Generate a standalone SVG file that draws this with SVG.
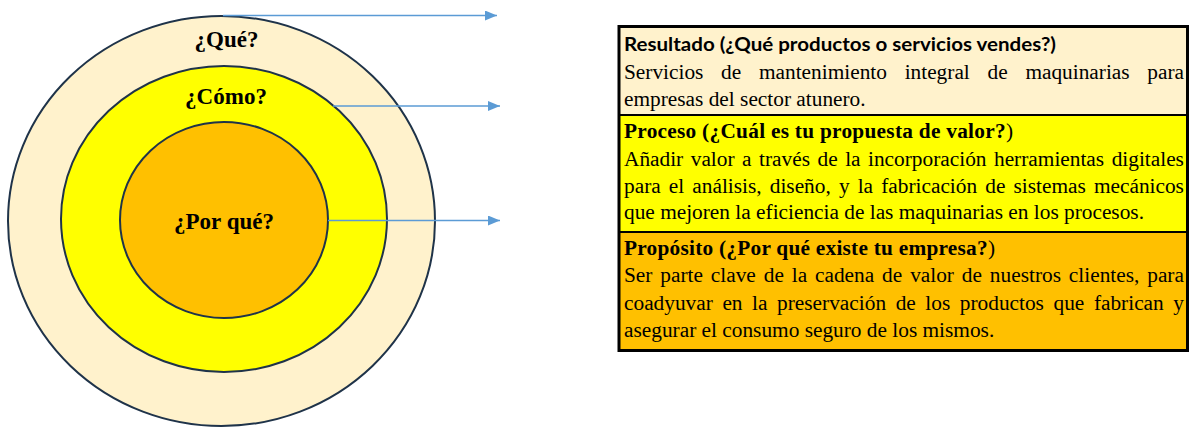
<svg xmlns="http://www.w3.org/2000/svg" width="1191" height="427" viewBox="0 0 1191 427">
<style>
.ring{stroke:#1F3349;stroke-width:2}
.lbl{font-family:"Liberation Serif","Times New Roman",serif;font-weight:bold;font-size:23px;fill:#000;text-anchor:middle}
.body{font-family:"Liberation Serif","Times New Roman",serif;font-size:21.33px;fill:#000}
.hdr{font-family:"Liberation Serif","Times New Roman",serif;font-size:21.33px;font-weight:bold;fill:#000}
.hdrs{font-family:Lato,"Open Sans","Liberation Sans",sans-serif;font-size:19px;font-weight:bold;fill:#000}
.conn{stroke:#5B9BD5;stroke-width:1.3;fill:none}
.div{stroke:#000;stroke-width:2}
</style>
<defs>
<marker id="arr" markerWidth="12" markerHeight="10" refX="12" refY="5" orient="auto" markerUnits="userSpaceOnUse">
<path d="M0,0 L12,5 L0,10 Z" fill="#5B9BD5"/>
</marker>
</defs>
<rect width="1191" height="427" fill="#fff"/>
<g id="ring-que">
<ellipse class="ring" cx="221.5" cy="221" rx="213.5" ry="205" fill="#FFF2CC"/>
<text class="lbl" x="226.5" y="47">¿Qué?</text>
</g>
<g id="ring-como">
<ellipse class="ring" cx="224" cy="219" rx="163" ry="153" fill="#FFFF00"/>
<text class="lbl" x="226" y="104">¿Cómo?</text>
</g>
<g id="ring-porque">
<ellipse class="ring" cx="224" cy="220" rx="104" ry="98" fill="#FFC000"/>
<text class="lbl" x="224" y="229">¿Por qué?</text>
</g>
<g id="connectors">
<line class="conn" x1="223" y1="15.5" x2="497" y2="15.5" marker-end="url(#arr)"/>
<line class="conn" x1="333" y1="106" x2="500" y2="106" marker-end="url(#arr)"/>
<line class="conn" x1="328" y1="220.5" x2="500" y2="220.5" marker-end="url(#arr)"/>
</g>
<g id="resultado">
<rect x="619" y="26.5" width="568.5" height="88.5" fill="#FFF2CC"/>
<text class="hdrs" x="624" y="51" textLength="432" lengthAdjust="spacingAndGlyphs">Resultado (¿Qué productos o servicios vendes?)</text>
<text class="body" x="624" y="79" word-spacing="12.4">Servicios de mantenimiento integral de maquinarias para</text>
<text class="body" x="624" y="106">empresas del sector atunero.</text>
</g>
<g id="proceso">
<rect x="619" y="115" width="568.5" height="117" fill="#FFFF00"/>
<text class="hdr" x="624" y="138" textLength="389" lengthAdjust="spacing">Proceso (¿Cuál es tu propuesta de valor?<tspan font-weight="normal">)</tspan></text>
<text class="body" x="624" y="166" word-spacing="2.18">Añadir valor a través de la incorporación herramientas digitales</text>
<text class="body" x="624" y="193" word-spacing="2.79">para el análisis, diseño, y la fabricación de sistemas mecánicos</text>
<text class="body" x="624" y="219">que mejoren la eficiencia de las maquinarias en los procesos.</text>
</g>
<g id="proposito">
<rect x="619" y="232" width="568.5" height="118.5" fill="#FFC000"/>
<text class="hdr" x="624" y="255" textLength="371" lengthAdjust="spacing">Propósito (¿Por qué existe tu empresa?<tspan font-weight="normal">)</tspan></text>
<text class="body" x="624" y="282" word-spacing="2.56">Ser parte clave de la cadena de valor de nuestros clientes, para</text>
<text class="body" x="624" y="310" word-spacing="4.25">coadyuvar en la preservación de los productos que fabrican y</text>
<text class="body" x="624" y="337">asegurar el consumo seguro de los mismos.</text>
</g>
<g id="table-lines">
<line class="div" x1="619" y1="115" x2="1187.5" y2="115"/>
<line class="div" x1="619" y1="232" x2="1187.5" y2="232"/>
<rect x="619" y="26.5" width="568.5" height="324" fill="none" stroke="#000" stroke-width="3"/>
</g>
</svg>
